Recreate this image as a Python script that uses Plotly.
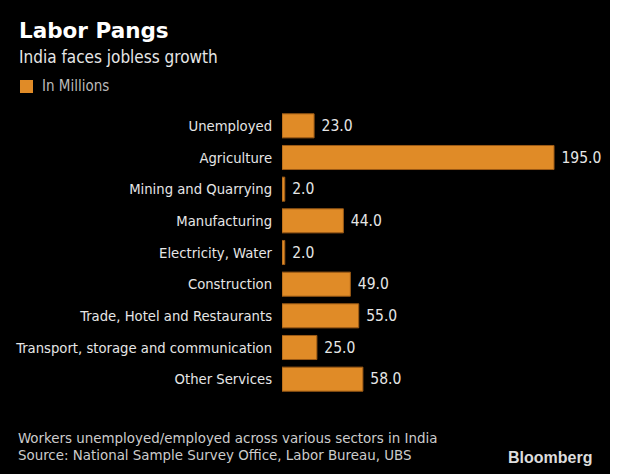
import plotly.graph_objects as go

categories = ["Unemployed", "Agriculture", "Mining and Quarrying", "Manufacturing",
              "Electricity, Water", "Construction", "Trade, Hotel and Restaurants",
              "Transport, storage and communication", "Other Services"]
values = [23.0, 195.0, 2.0, 44.0, 2.0, 49.0, 55.0, 25.0, 58.0]

W, H = 640, 474
L, R, T, B = 282, 30, 110, 79
PW = W - L - R
PH = H - T - B

def px(x):
    return (x - L) / PW

def py(y):
    return (H - B - y) / PH

FONT = "DejaVu Sans Condensed"
fig = go.Figure(go.Bar(
    x=values, y=categories, orientation="h",
    marker=dict(color="#E08B27", line=dict(color="#9C5A16", width=1)),
    texttemplate="\u00a0%{x:.1f}", textposition="outside",
    textfont=dict(color="#E6E6E6", size=15.5, family=FONT),
    cliponaxis=False, name="In Millions", showlegend=False,
))

shapes = [
    dict(type="rect", xref="paper", yref="paper", x0=px(0), x1=px(610), y0=py(H), y1=py(0),
         fillcolor="black", line=dict(width=0), layer="below"),
    dict(type="rect", xref="paper", yref="paper", x0=px(20), x1=px(33), y0=py(93), y1=py(80),
         fillcolor="#E08B27", line=dict(width=0)),
]

def ann(text, x, y, size, color, bold=False, xanchor="left", family=FONT):
    return dict(text=f"<b>{text}</b>" if bold else text, x=px(x), y=py(y), xref="paper", yref="paper",
                xanchor=xanchor, yanchor="middle", showarrow=False,
                font=dict(size=size, color=color, family=family))

annotations = [
    ann("Labor Pangs", 17, 30, 21.5, "#FFFFFF", bold=True, family="DejaVu Sans"),
    ann("India faces jobless growth", 17, 57, 17, "#E6E6E6"),
    ann("In Millions", 40, 86, 15, "#BBBBBB"),
    ann("Workers unemployed/employed across various sectors in India", 16, 438, 14.9, "#CCCCCC"),
    ann("Source: National Sample Survey Office, Labor Bureau, UBS", 16, 455, 14.9, "#CCCCCC"),
    ann("Bloomberg", 594, 457, 16, "#DDDDDD", bold=True, xanchor="right", family="Liberation Sans"),
]

fig.update_layout(
    width=W, height=H, margin=dict(l=L, r=R, t=T, b=B, autoexpand=False),
    paper_bgcolor="white", plot_bgcolor="black",
    bargap=0.24, shapes=shapes, annotations=annotations,
    xaxis=dict(range=[0, PW / 1.395], visible=False, showgrid=False, zeroline=False),
    yaxis=dict(autorange="reversed", showgrid=False, zeroline=False, showline=False,
               automargin=False, ticks="outside", ticklen=0, ticklabelstandoff=6,
               tickfont=dict(size=14.7, color="#E6E6E6", family=FONT)),
)

fig.write_html("out.html")
